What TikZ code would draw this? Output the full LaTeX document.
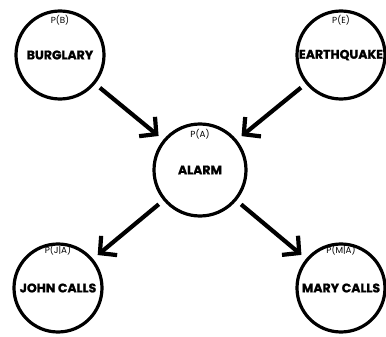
\documentclass[tikz,border=0pt]{standalone}
\usepackage{fontspec}
\setmainfont{Poppins}
\newfontfamily\heavyfont[BoldFeatures={FakeBold=1.2}]{Poppins}
\usetikzlibrary{arrows.meta}
\begin{document}
\begin{tikzpicture}[x=1pt,y=-1pt,
  var/.style={circle,draw=black,line width=3.2pt,minimum size=88pt,inner sep=0pt,
    font=\heavyfont\fontsize{12.5}{13}\selectfont\bfseries},
  prob/.style={font=\fontsize{8.8}{9}\selectfont,inner sep=0pt},
  edge/.style={line width=4.2pt,-{Straight Barb[length=12pt,width=25pt,line width=4.2pt]},
    shorten <=6pt, shorten >=6pt}]
\useasboundingbox (0,0) rectangle (386,337);
\node[var] (B) at (60,55) {BURGLARY};
\node[var] (E) at (341,55) {EARTHQUAKE};
\node[var,minimum size=92pt] (A) at (200,170) {ALARM};
\node[var] (J) at (58,288) {JOHN CALLS};
\node[var] (M) at (341,288) {MARY CALLS};
\node[prob] (pB) at (60,20.5) {P(B)};
\node[prob] (pE) at (341,20.5) {P(E)};
\node[prob] (pA) at (200,134) {P(A)};
\node[prob] (pJ) at (58,250.5) {P(J|A)};
\node[prob] (pM) at (341,250.5) {P(M|A)};
\draw[edge] (B) -- (A);
\draw[edge] (E) -- (A);
\draw[edge] (A) -- (J);
\draw[edge] (A) -- (M);
\end{tikzpicture}
\end{document}
